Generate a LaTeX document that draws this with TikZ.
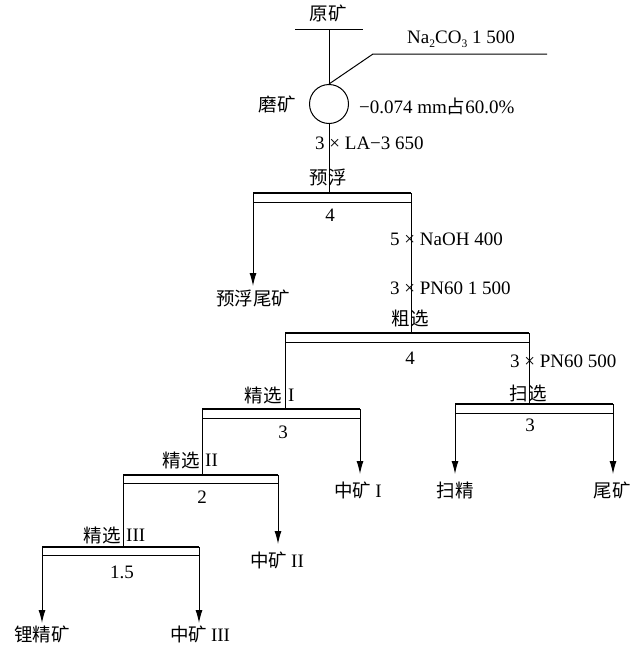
\documentclass[tikz,border=0pt]{standalone}
\usepackage{fontspec}
\setmainfont{Liberation Serif}
\newfontfamily\cjk{Noto Sans CJK SC}
\usetikzlibrary{arrows.meta}
\newcommand\zh[1]{{\fontsize{18.5}{22}\cjk #1}}
\newcommand\subs[1]{\raisebox{-0.55ex}{\fontsize{11.5}{11.5}\selectfont #1}}
\begin{document}
\begin{tikzpicture}[x=1pt,y=-1pt,
  thinline/.style={line width=1pt},
  barline/.style={line width=2.8pt},
  arr/.style={line width=1pt,-{Latex[length=13pt,width=7pt]}},
  lbl/.style={inner sep=0pt, font=\fontsize{19}{22}\selectfont},
  cj/.style={inner sep=0pt, font=\fontsize{18.5}{22}\cjk}]
\useasboundingbox (0,0) rectangle (639,648);

% ---- feed and grinding
\node[cj] (raw) at (328,13) {原矿};
\coordinate (rawL) at (295,29);
\coordinate (rawR) at (363,29);
\coordinate (rawM) at (329,29);
\draw[thinline] (rawL) -- (rawR);
\node[draw, circle, line width=1pt, minimum size=39pt, inner sep=0pt] (mill) at (329,104) {};
\draw[thinline] (rawM) -- (mill.north);
\coordinate (naK) at (373,54);
\coordinate (naE) at (547,54);
\draw[thinline] (mill.north) -- (naK) -- (naE);
\node[lbl, anchor=base west] (na) at (407,43) {Na\subs{2}CO\subs{3} 1 500};
\node[cj] (grind) at (277,104) {磨矿};
\node[lbl, anchor=base west] (size) at (359,113) {−0.074 mm\zh{占}60.0\%};
\node[lbl, anchor=base west] (la) at (315,149) {3 × LA−3 650};

% ---- pre-flotation
\node[cj] (pf) at (328,177) {预浮};
\coordinate (pfL) at (253,193);
\coordinate (pfR) at (411,193);
\coordinate (pfM) at (329,193);
\draw[thinline] (mill.south) -- (pfM);
\draw[barline] (pfL) -- (pfR);
\draw[thinline] (253,202) -- (411,202);
\node[lbl] (pfn) at (330,215) {4};
\coordinate (pfT) at (253,286);
\draw[arr] (pfL) -- (pfT);
\node[cj] (pft) at (253,298) {预浮尾矿};
\node[lbl, anchor=base west] (naoh) at (390,245) {5 × NaOH 400};
\node[lbl, anchor=base west] (pn1) at (390,294) {3 × PN60 1 500};

% ---- rougher
\node[cj] (ro) at (410,318) {粗选};
\coordinate (roL) at (285,333);
\coordinate (roR) at (529,333);
\coordinate (roM) at (411,333);
\draw[thinline] (pfR) -- (roM);
\draw[barline] (roL) -- (roR);
\draw[thinline] (285,342) -- (529,342);
\node[lbl] (ron) at (410,358) {4};
\node[lbl, anchor=base west] (pn2) at (510,367) {3 × PN60 500};

% ---- scavenger
\node[cj] (sc) at (528,393) {扫选};
\coordinate (scL) at (455,404);
\coordinate (scR) at (613,404);
\coordinate (scM) at (529,404);
\draw[thinline] (roR) -- (scM);
\draw[barline] (scL) -- (scR);
\draw[thinline] (455,413) -- (613,413);
\node[lbl] (scn) at (530,425) {3};
\coordinate (scLT) at (455,474);
\coordinate (scRT) at (613,474);
\draw[arr] (scL) -- (scLT);
\draw[arr] (scR) -- (scRT);
\node[cj] (scc) at (455,490) {扫精};
\node[cj] (tail) at (612,490) {尾矿};

% ---- cleaner I
\node[cj, anchor=east] (c1a) at (282,395) {精选};
\node[lbl, anchor=west] (c1b) at (288,395) {I};
\coordinate (c1L) at (202,409);
\coordinate (c1R) at (360,409);
\coordinate (c1M) at (285,409);
\draw[thinline] (roL) -- (c1M);
\draw[barline] (c1L) -- (c1R);
\draw[thinline] (202,418) -- (360,418);
\node[lbl] (c1n) at (283,432) {3};
\coordinate (c1T) at (360,474);
\draw[arr] (c1R) -- (c1T);
\node[lbl] (m1) at (358,490) {\zh{中矿}\hspace{4pt}I};

% ---- cleaner II
\node[cj, anchor=east] (c2a) at (200,460) {精选};
\node[lbl, anchor=west] (c2b) at (205,460) {II};
\coordinate (c2L) at (123,475);
\coordinate (c2R) at (278,475);
\coordinate (c2M) at (202,475);
\draw[thinline] (c1L) -- (c2M);
\draw[barline] (c2L) -- (c2R);
\draw[thinline] (123,483) -- (278,483);
\node[lbl] (c2n) at (202,497) {2};
\coordinate (c2T) at (278,544);
\draw[arr] (c2R) -- (c2T);
\node[lbl] (m2) at (277,560) {\zh{中矿}\hspace{4pt}II};

% ---- cleaner III
\node[cj, anchor=east] (c3a) at (121,535) {精选};
\node[lbl, anchor=west] (c3b) at (126,535) {III};
\coordinate (c3L) at (42,547);
\coordinate (c3R) at (199,547);
\coordinate (c3M) at (123,547);
\draw[thinline] (c2L) -- (c3M);
\draw[barline] (c3L) -- (c3R);
\draw[thinline] (42,555) -- (199,555);
\node[lbl] (c3n) at (122,572) {1.5};
\coordinate (c3LT) at (42,623);
\coordinate (c3RT) at (199,623);
\draw[arr] (c3L) -- (c3LT);
\draw[arr] (c3R) -- (c3RT);
\node[cj] (conc) at (42,634) {锂精矿};
\node[lbl] (m3) at (200,634) {\zh{中矿}\hspace{4pt}III};
\end{tikzpicture}
\end{document}
